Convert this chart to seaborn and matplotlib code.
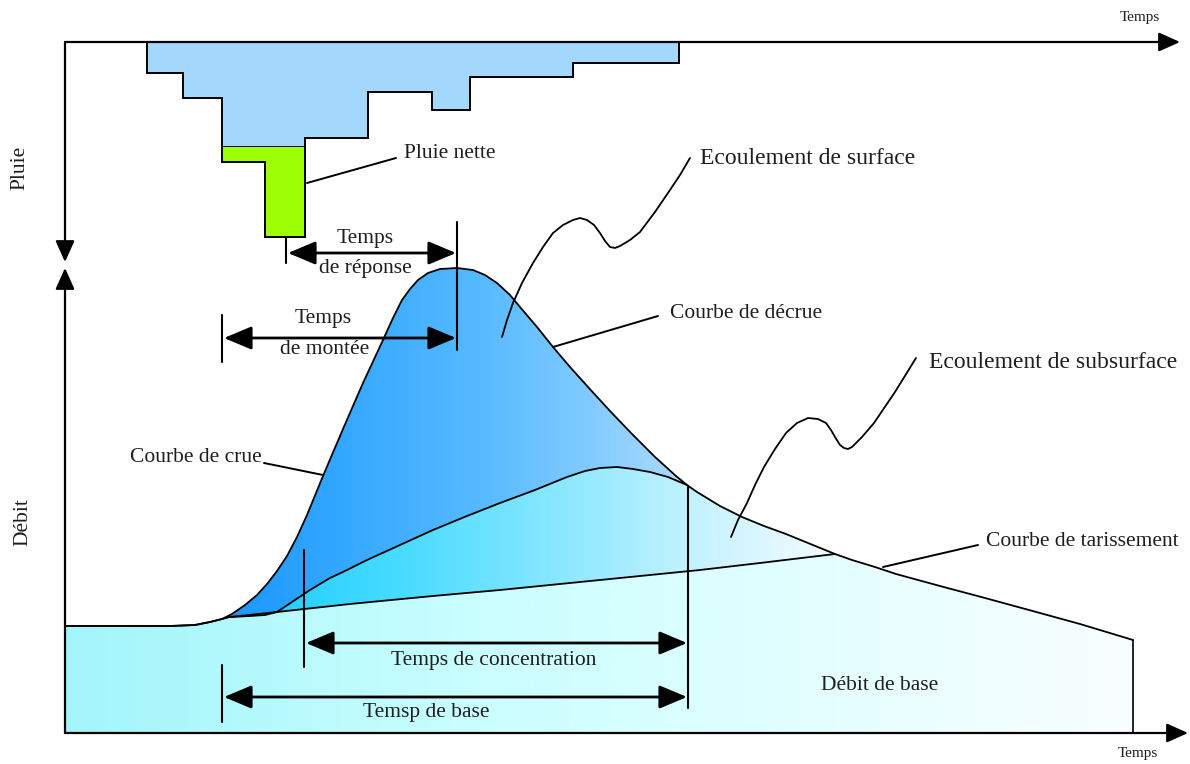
import matplotlib
matplotlib.use("Agg")
import matplotlib.pyplot as plt
import matplotlib.colors as mcolors
from matplotlib.patches import Polygon
import numpy as np
import seaborn as sns

# ---------------------------------------------------------------
# Data (diagram units: x = time, y = image rows, pointing down)
# ---------------------------------------------------------------

# hyetograph: bar edges and bar depths below the top time axis
rain_edges = [147, 183, 222, 305, 368, 432, 470, 573, 679]
rain_depth = [73, 98, 147, 138, 92, 110, 77, 63]
net_edges = [222, 265, 305]
net_depth = [162, 237]

# total hydrograph (crue + décrue + tarissement)
flow_x = [65, 120, 170, 195, 210, 222, 232, 245, 257, 267, 277, 287, 297, 307,
          323, 343, 363, 383, 393, 402, 410, 418, 428, 440, 457, 473, 485, 497,
          510, 520, 537, 553, 570, 588, 610, 632, 655, 676, 687, 697, 720, 742,
          764, 786, 808, 835, 852, 875, 896, 918, 940, 985, 1029, 1080, 1133]
flow_y = [626, 626, 626, 625, 622, 619, 614, 605, 595, 584, 571, 556, 537, 515,
          476, 429, 383, 340, 318, 300, 289, 280, 273, 269, 268, 270, 275, 283,
          295, 307, 327, 347, 367, 387, 411, 434, 457, 476, 485, 492, 506, 517,
          526, 534, 543, 554, 560, 567, 574, 580, 586, 598, 610, 624, 640]

# subsurface flow upper limit
inter_x = [230, 250, 265, 277, 292, 310, 330, 345, 367, 400, 433, 467, 500,
           535, 567, 585, 600, 617, 633, 650, 668, 687]
inter_y = [617, 616, 615, 612, 602, 590, 578, 571, 560, 545, 530, 516, 503,
           490, 477, 471, 468, 467, 469, 472, 477, 485]

# base flow separation line
base_x = [65, 120, 170, 195, 210, 230, 277, 350, 433, 500, 600, 700, 760, 835]
base_y = [626, 626, 626, 625, 622, 617, 612, 604, 596, 590, 580, 570, 563, 554]

# label pointer squiggles
surf_x = [502, 507, 513, 522, 533, 543, 553, 563, 573, 580, 587, 594, 600,
          605, 610, 615, 620, 630, 640, 655, 670, 680, 690]
surf_y = [337, 320, 303, 283, 263, 247, 233, 225, 220, 218, 220, 225, 233,
          241, 247, 248, 246, 240, 232, 212, 190, 175, 158]
sub_x = [731, 738, 747, 755, 764, 775, 786, 797, 808, 818, 826, 831, 835,
         840, 844, 848, 852, 862, 874, 895, 916]
sub_y = [537, 520, 503, 485, 467, 449, 433, 423, 418, 419, 423, 430, 437,
         445, 448, 449, 447, 437, 423, 392, 358]

# horizontal gradient stops for the three flow components
surf_stops = [220, 350, 480, 580, 690]
surf_cols = ["#1797ff", "#36a9ff", "#56baff", "#7dc9ff", "#aedcff"]
subs_stops = [250, 400, 560, 690, 800, 840]
subs_cols = ["#1ecdff", "#48dbff", "#8ae8ff", "#c2f2ff", "#e8f9ff", "#f4fcff"]
base_stops = [65, 450, 850, 1133]
base_cols = ["#a2f5fb", "#c8feff", "#e6feff", "#f9ffff"]

# ---------------------------------------------------------------
# Style
# ---------------------------------------------------------------
sns.set_style("white")
plt.rcParams["font.family"] = ["Liberation Serif", "DejaVu Serif"]
TXT = "#1e1e1e"


def gradient_fill(ax, xs, ys, stops, cols, z):
    """Fill a polygon with a left-to-right colour gradient."""
    poly = Polygon(np.column_stack([xs, ys]), closed=True,
                   facecolor="none", edgecolor="none")
    ax.add_patch(poly)
    grid = np.linspace(min(xs), max(xs), 500)
    rgb = np.array([mcolors.to_rgb(c) for c in cols])
    img = np.stack([np.interp(grid, stops, rgb[:, k]) for k in range(3)], axis=-1)
    im = ax.imshow(img[None, :, :], extent=[min(xs), max(xs), max(ys), min(ys)],
                   aspect="auto", zorder=z, interpolation="bilinear")
    im.set_clip_path(poly)


def double_arrow(ax, x0, x1, y):
    ax.annotate("", xy=(x1, y), xytext=(x0, y),
                arrowprops=dict(arrowstyle="<|-|>,head_length=1.0,head_width=0.42",
                                mutation_scale=17, lw=2.0, color="black",
                                shrinkA=0, shrinkB=0), zorder=6)


def axis_arrow(ax, start, end):
    ax.annotate("", xy=end, xytext=start,
                arrowprops=dict(arrowstyle="-|>,head_length=1.0,head_width=0.45",
                                mutation_scale=13, lw=1.6, color="black",
                                shrinkA=0, shrinkB=0), zorder=7)


fig = plt.figure(figsize=(11.9, 7.64), dpi=100)
ax = fig.add_axes([0, 0, 1, 1])

fx, fy = np.array(flow_x), np.array(flow_y)
ix, iy = np.array(inter_x), np.array(inter_y)
bx, by = np.array(base_x), np.array(base_y)

# base flow region
m = fx > 835
poly_x = list(bx) + list(fx[m]) + [1133, 65]
poly_y = list(by) + list(fy[m]) + [733, 733]
gradient_fill(ax, poly_x, poly_y, base_stops, base_cols, 1)

# subsurface region
mb = bx >= 230
mf = (fx >= 687) & (fx <= 835)
poly_x = list(bx[mb]) + list(fx[mf][::-1]) + list(ix[::-1])
poly_y = list(by[mb]) + list(fy[mf][::-1]) + list(iy[::-1])
gradient_fill(ax, poly_x, poly_y, subs_stops, subs_cols, 1.1)

# surface runoff region
mf = (fx >= 210) & (fx <= 687)
poly_x = list(fx[mf]) + list(ix[::-1])
poly_y = list(fy[mf]) + list(iy[::-1])
gradient_fill(ax, poly_x, poly_y, surf_stops, surf_cols, 1.2)

# curves
for xs, ys in [(flow_x, flow_y), (inter_x, inter_y), (base_x, base_y),
               (surf_x, surf_y), (sub_x, sub_y)]:
    sns.lineplot(x=xs, y=ys, ax=ax, sort=False, estimator=None,
                 color="black", lw=1.3, zorder=3)
ax.plot([1133, 1133], [640, 733], color="black", lw=1.2, zorder=3)

# hyetograph
ax.stairs(rain_depth, rain_edges, baseline=42, fill=True, facecolor="#a3d8fc",
          edgecolor="black", lw=1.4, zorder=2)
ax.stairs(net_depth, net_edges, baseline=147, fill=True, facecolor="#9dff05",
          edgecolor="black", lw=1.4, zorder=2)

# axes of the diagram
axis_arrow(ax, (65, 42), (1180, 42))
axis_arrow(ax, (65, 42), (65, 262))
axis_arrow(ax, (65, 733), (65, 268))
axis_arrow(ax, (65, 733), (1188, 733))

# time markers
for x, y0, y1 in [(286, 237, 263), (457, 222, 350), (222, 315, 362),
                  (304, 550, 667), (688, 487, 708), (222, 665, 722)]:
    ax.plot([x, x], [y0, y1], color="black", lw=1.5, zorder=5)

double_arrow(ax, 288, 456, 253)
double_arrow(ax, 224, 456, 338)
double_arrow(ax, 306, 687, 643)
double_arrow(ax, 224, 687, 697)

# leader lines
for (x0, y0), (x1, y1) in [((307, 183), (396, 158)), ((264, 463), (323, 475)),
                           ((553, 347), (658, 316)), ((883, 567), (978, 545))]:
    ax.plot([x0, x1], [y0, y1], color="black", lw=1.4, zorder=5)

# labels
def label(x, y, s, size=15.5, ha="center", rot=0):
    ax.text(x, y, s, fontsize=size, ha=ha, va="center", color=TXT,
            rotation=rot, zorder=8)

label(1140, 18, "Temps", size=11)
label(1138, 754, "Temps", size=11)
label(20, 168, "Pluie", rot=90)
label(23, 522, "Débit", rot=90)
label(404, 153, "Pluie nette", ha="left")
label(700, 158, "Ecoulement de surface", size=17, ha="left")
label(365, 238, "Temps")
label(365, 268, "de réponse")
label(323, 318, "Temps")
label(325, 349, "de montée")
label(262, 457, "Courbe de crue", ha="right")
label(670, 313, "Courbe de décrue", ha="left")
label(929, 362, "Ecoulement de subsurface", size=17, ha="left")
label(986, 542, "Courbe de tarissement", ha="left")
label(494, 661, "Temps de concentration")
label(426, 713, "Temsp de base")
label(880, 685, "Débit de base")

ax.set_xlim(0, 1190)
ax.set_ylim(764, 0)
ax.axis("off")

fig.savefig("out.png", dpi=100)
